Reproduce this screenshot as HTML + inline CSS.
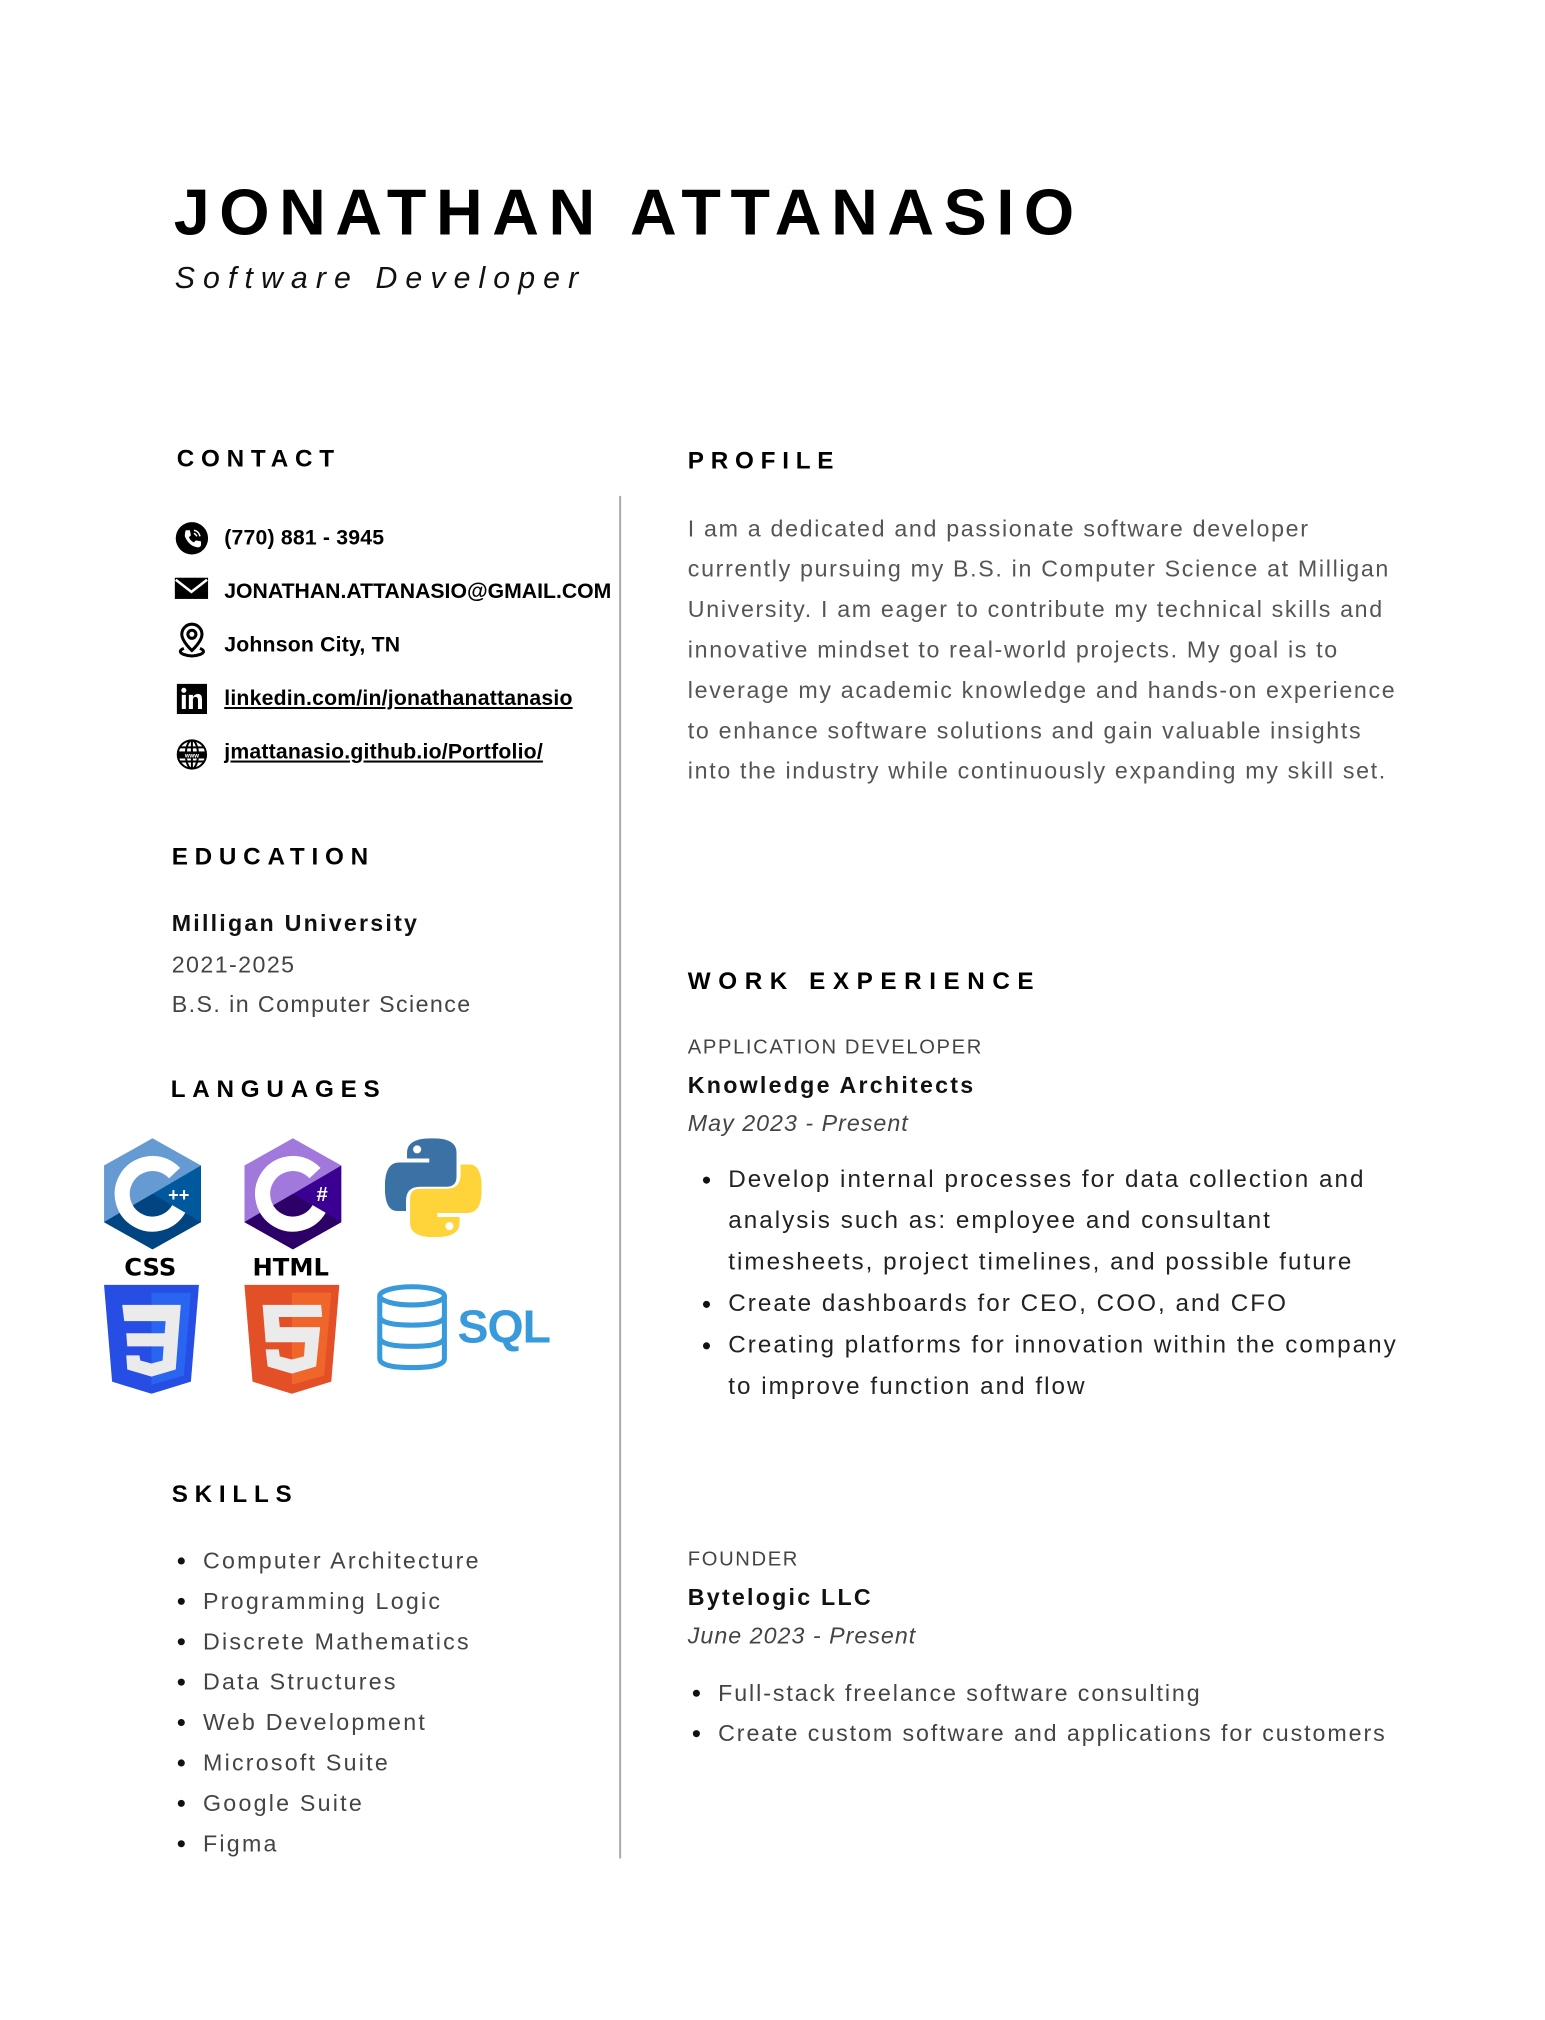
<!DOCTYPE html>
<html><head><meta charset="utf-8"><style>
*{margin:0;padding:0;box-sizing:border-box}
body{width:1545px;height:2000px;background:#fff;position:relative;font-family:"Liberation Sans",sans-serif;color:#000;overflow:hidden}
#w{position:absolute;left:0;top:0;width:1545px;height:2000px;transform:scale(1.01);transform-origin:0 0}
.a{position:absolute;white-space:nowrap;line-height:1.117}
.h{font-size:24px;font-weight:bold;letter-spacing:6.7px}
.c{font-size:21px;font-weight:bold;left:222px;letter-spacing:0.2px}
.u{text-decoration:underline}
.p{font-size:23px;line-height:40px;color:#555;letter-spacing:1.65px}
.g{font-size:23px;color:#444;letter-spacing:1.4px}
.b{font-size:23px;font-weight:bold;letter-spacing:2.2px;color:#111}
.t{font-size:20px;letter-spacing:1.6px;color:#444}
.i{font-size:23px;font-style:italic;letter-spacing:1px;color:#444}
.li{position:relative}
.li:before{content:"";position:absolute;width:7px;height:7px;border-radius:50%;background:#111;left:-25px;top:50%;margin-top:-3px}
</style></head><body><div id="w">
<div class="a" style="left:172px;top:175px;font-size:64px;font-weight:bold;letter-spacing:9.5px">JONATHAN ATTANASIO</div>
<div class="a" style="left:173px;top:259px;font-size:30px;font-style:italic;letter-spacing:8px;color:#111">Software Developer</div>

<div class="a h" style="left:175px;top:442px">CONTACT</div>
<div class="a h" style="left:681px;top:444px">PROFILE</div>
<div class="a h" style="left:170px;top:836px">EDUCATION</div>
<div class="a h" style="left:169px;top:1066px">LANGUAGES</div>
<div class="a h" style="left:170px;top:1467px">SKILLS</div>
<div class="a h" style="left:681px;top:959px;letter-spacing:7.5px">WORK EXPERIENCE</div>

<div style="position:absolute;left:613px;top:491px;width:2px;height:1349px;background:#aaa"></div>

<svg style="position:absolute;left:173px;top:516px" width="34" height="34" viewBox="0 0 34 34"><circle cx="17" cy="17" r="16" fill="#000"/><path d="M11 9 l4 0 l1 5 l-2 2 q2 4 5 5 l2-2 l5 1 l0 4 q-1 2-3 2 q-9-1-13-11 q0-4 1-6z" fill="#fff"/><path d="M19 9 q5 1 6 6 M19 12 q2 1 3 3" stroke="#fff" stroke-width="1.5" fill="none"/></svg>
<svg style="position:absolute;left:173px;top:571px" width="34" height="24" viewBox="0 0 34 24"><rect x="0" y="1" width="33" height="21" fill="#000"/><path d="M1 3 L16.5 15 L32 3" stroke="#fff" stroke-width="2.5" fill="none"/></svg>
<svg style="position:absolute;left:174px;top:616px" width="32" height="36" viewBox="0 0 32 36"><path d="M16 2 a10 10 0 0 1 10 10 c0 7-10 16-10 16 s-10-9-10-16 a10 10 0 0 1 10-10z" fill="none" stroke="#000" stroke-width="3"/><circle cx="16" cy="12" r="4" fill="none" stroke="#000" stroke-width="3"/><path d="M8 26 q-7 3 0 6 q8 3 16 0 q7-3 0-6" fill="none" stroke="#000" stroke-width="3"/></svg>
<svg style="position:absolute;left:175px;top:677px" width="30" height="30" viewBox="0 0 30 30"><rect width="30" height="30" fill="#000"/><rect x="5" y="11" width="4" height="14" fill="#fff"/><circle cx="7" cy="6.5" r="2.5" fill="#fff"/><path d="M12 11 h4 v2 q2-3 5-3 q4 0 4 5 v10 h-4 v-9 q0-3-2.5-3 q-2.5 0-2.5 3 v9 h-4z" fill="#fff"/></svg>
<svg style="position:absolute;left:174px;top:731px" width="32" height="32" viewBox="0 0 32 32"><g fill="none" stroke="#000" stroke-width="2"><circle cx="16" cy="16" r="14"/><ellipse cx="16" cy="16" rx="6" ry="14"/><path d="M2 16h28M4 9h24M4 23h24M16 2v28"/></g><rect x="3" y="13" width="26" height="7" fill="#000"/><text x="16" y="19" font-size="6" fill="#fff" text-anchor="middle" font-family="Liberation Sans" font-weight="bold">www</text></svg>

<div class="a c" style="top:521px">(770) 881 - 3945</div>
<div class="a c" style="top:574px;letter-spacing:0">JONATHAN.ATTANASIO@GMAIL.COM</div>
<div class="a c" style="top:627px">Johnson City, TN</div>
<div class="a c u" style="top:680px">linkedin.com/in/jonathanattanasio</div>
<div class="a c u" style="top:733px">jmattanasio.github.io/Portfolio/</div>

<div class="a p" style="left:681px;top:503px">I am a dedicated and passionate software developer<br>currently pursuing my B.S. in Computer Science at Milligan<br>University. I am eager to contribute my technical skills and<br>innovative mindset to real-world projects. My goal is to<br>leverage my academic knowledge and hands-on experience<br>to enhance software solutions and gain valuable insights<br>into the industry while continuously expanding my skill set.</div>

<div class="a b" style="left:170px;top:902px">Milligan University</div>
<div class="a g" style="left:170px;top:943px">2021-2025</div>
<div class="a g" style="left:170px;top:982px">B.S. in Computer Science</div>

<svg style="position:absolute;left:103px;top:1127px" width="96" height="110" viewBox="0 0 96 110"><polygon points="48,0 96,27 96,83 48,110 0,83 0,27" fill="#659ad2"/><polygon points="96,27 96,83 48,110 0,83 48,55" fill="#00599c"/><polygon points="48,55 0,83 48,110 96,83" fill="#004482"/><circle cx="48" cy="55" r="30" fill="none" stroke="#fff" stroke-width="15" stroke-dasharray="150 50" transform="rotate(30 48 55)"/><text x="74" y="62" font-size="18" fill="#fff" font-weight="bold" text-anchor="middle" font-family="Liberation Sans">++</text></svg>
<svg style="position:absolute;left:242px;top:1127px" width="96" height="110" viewBox="0 0 96 110"><polygon points="48,0 96,27 96,83 48,110 0,83 0,27" fill="#a179dc"/><polygon points="96,27 96,83 48,110 0,83 48,55" fill="#390091"/><polygon points="48,55 0,83 48,110 96,83" fill="#2c0066"/><circle cx="48" cy="55" r="30" fill="none" stroke="#fff" stroke-width="15" stroke-dasharray="150 50" transform="rotate(30 48 55)"/><text x="77" y="62" font-size="20" fill="#fff" font-weight="bold" text-anchor="middle" font-family="Liberation Sans">#</text></svg>
<svg style="position:absolute;left:381px;top:1127px" width="96" height="98" viewBox="0 0 96 98"><path d="M47 0 q24 0 24 14 v24 q0 10-10 10 h-26 q-14 0-14 14 v10 h-9 q-12 0-12-24 q0-24 14-24 h30 v-4 h-22 v-6 q0-14 25-14z" fill="#3a72a6"/><circle cx="32" cy="11" r="4" fill="#fff"/><path d="M49 98 q-24 0-24-14 v-24 q0-10 10-10 h26 q14 0 14-14 v-10 h9 q12 0 12 24 q0 24-14 24 h-30 v4 h22 v6 q0 14-25 14z" fill="#ffd43b"/><circle cx="64" cy="87" r="4" fill="#fff"/></svg>
<div class="a" style="left:123px;top:1243px;font-size:24px;font-weight:900;font-family:'DejaVu Sans';line-height:24px">CSS</div>
<div class="a" style="left:250px;top:1243px;font-size:24px;font-weight:900;font-family:'DejaVu Sans';line-height:24px">HTML</div>
<svg style="position:absolute;left:103px;top:1272px" width="94" height="108" viewBox="0 0 94 108"><polygon points="0,0 94,0 86,96 47,108 8,96" fill="#264de4"/><polygon points="47,8 86,8 79,90 47,99" fill="#2965f1"/><path d="M18 20 h58 l-5 64 l-24 7 l-24-7 l-1-14 h13 l1 5 l11 3 l11-3 l1-14 h-36 l-1-13 h38 l1-12 h-41z" fill="#ebebeb"/></svg>
<svg style="position:absolute;left:242px;top:1272px" width="94" height="108" viewBox="0 0 94 108"><polygon points="0,0 94,0 86,96 47,108 8,96" fill="#e34f26"/><polygon points="47,8 86,8 79,90 47,99" fill="#ef652a"/><path d="M76 20 h-58 l3 37 h39 l-1 14 l-12 3 l-12-3 l-1-7 h-13 l2 17 l24 7 l24-7 l4-39 h-40 l-1-10 h43z" fill="#ebebeb"/></svg>
<svg style="position:absolute;left:372px;top:1271px" width="72" height="86" viewBox="0 0 72 86"><g fill="none" stroke="#3899db" stroke-width="5"><ellipse cx="36" cy="12" rx="32" ry="9"/><path d="M4 12v62q0 9 32 9t32-9V12M4 32q0 9 32 9t32-9M4 53q0 9 32 9t32-9"/></g></svg>
<div class="a" style="left:453px;top:1288px;font-size:46px;font-weight:bold;color:#3899db;line-height:50px;letter-spacing:-1px">SQL</div>

<div class="a p" style="left:201px;top:1525px;color:#444;letter-spacing:2.2px">
<div class="li">Computer Architecture</div><div class="li">Programming Logic</div><div class="li">Discrete Mathematics</div><div class="li">Data Structures</div><div class="li">Web Development</div><div class="li">Microsoft Suite</div><div class="li">Google Suite</div><div class="li">Figma</div></div>

<div class="a t" style="left:681px;top:1026px">APPLICATION DEVELOPER</div>
<div class="a b" style="left:681px;top:1062px">Knowledge Architects</div>
<div class="a i" style="left:681px;top:1100px">May 2023 - Present</div>
<div class="a" style="left:721px;top:1147px;font-size:24px;line-height:41px;letter-spacing:2px;color:#222">
<div class="li">Develop internal processes for data collection and</div><div>analysis such as: employee and consultant</div><div>timesheets, project timelines, and possible future</div><div class="li">Create dashboards for CEO, COO, and CFO</div><div class="li">Creating platforms for innovation within the company</div><div>to improve function and flow</div></div>

<div class="a t" style="left:681px;top:1533px">FOUNDER</div>
<div class="a b" style="left:681px;top:1569px">Bytelogic LLC</div>
<div class="a i" style="left:681px;top:1607px">June 2023 - Present</div>
<div class="a p" style="left:711px;top:1656px;color:#444;letter-spacing:1.9px">
<div class="li">Full-stack freelance software consulting</div><div class="li">Create custom software and applications for customers</div></div>
</div></body></html>
